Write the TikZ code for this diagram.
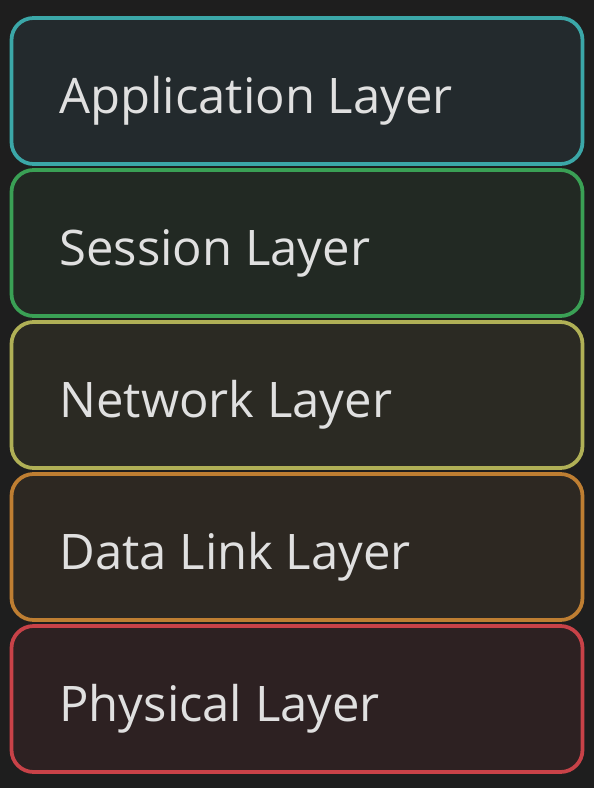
\documentclass[tikz,border=0pt]{standalone}
\usepackage{fontspec}
\setmainfont{Open Sans}

\definecolor{bgdark}{RGB}{30,30,30}
\definecolor{labelgray}{RGB}{224,224,224}

\tikzset{every picture/.style={line width=0.75pt}}

\begin{document}
\begin{tikzpicture}[x=1pt,y=1pt,yscale=-1,xscale=1,
  layerbox/.style={draw, line width=3.75pt, rounded corners=22pt, minimum width=571pt, minimum height=146pt, inner sep=0pt},
  layertext/.style={anchor=base west, text=labelgray, font=\fontsize{49}{57}\selectfont, inner sep=0pt}]
%set diagram left start at 0, and has height of 788
\fill [bgdark] (0,0) rectangle (594,788) ;
\useasboundingbox (0,0) rectangle (594,788) ;

%Rounded Rect Application
\node [layerbox, draw={rgb, 255:red, 59; green, 167; blue, 168 }, fill={rgb, 255:red, 35; green, 42; blue, 45 }] (app) at (297,91) {} ;
%Rounded Rect Session
\node [layerbox, draw={rgb, 255:red, 58; green, 160; blue, 85 }, fill={rgb, 255:red, 34; green, 41; blue, 35 }] (session) at (297,243) {} ;
%Rounded Rect Network
\node [layerbox, draw={rgb, 255:red, 176; green, 176; blue, 86 }, fill={rgb, 255:red, 43; green, 42; blue, 35 }] (network) at (297,395) {} ;
%Rounded Rect Data Link
\node [layerbox, draw={rgb, 255:red, 190; green, 126; blue, 50 }, fill={rgb, 255:red, 45; green, 40; blue, 34 }] (datalink) at (297,547) {} ;
%Rounded Rect Physical
\node [layerbox, draw={rgb, 255:red, 200; green, 66; blue, 72 }, fill={rgb, 255:red, 45; green, 33; blue, 34 }] (physical) at (297,699) {} ;

% Text Node
\node [layertext] (apptext) at (59,113) {Application Layer} ;
% Text Node
\node [layertext] (sessiontext) at (59,265) {Session Layer} ;
% Text Node
\node [layertext] (networktext) at (59,417) {Network Layer} ;
% Text Node
\node [layertext] (datalinktext) at (59,569) {Data Link Layer} ;
% Text Node
\node [layertext] (physicaltext) at (59,721) {Physical Layer} ;

\end{tikzpicture}
\end{document}
